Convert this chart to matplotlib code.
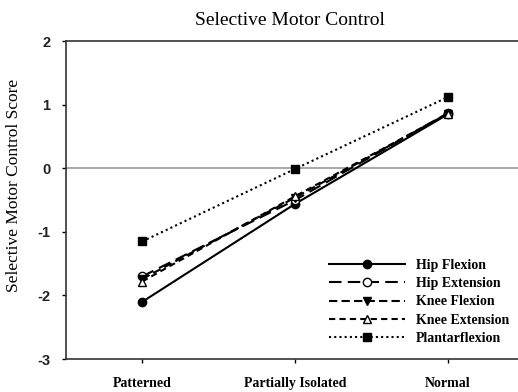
import numpy as np
import matplotlib
matplotlib.use('Agg')
import matplotlib.pyplot as plt

categories = ['Patterned', 'Partially Isolated', 'Normal']
hip_flexion = [-2.10, -0.56, 0.85]
hip_extension = [-1.70, -0.50, 0.87]
knee_flexion = [-1.74, -0.46, 0.86]
knee_extension = [-1.78, -0.44, 0.86]
plantarflexion = [-1.15, -0.01, 1.12]

series = [
    ('Hip Flexion', hip_flexion, '-', 'o', 'black'),
    ('Hip Extension', hip_extension, (0, (6, 3)), 'o', 'white'),
    ('Knee Flexion', knee_flexion, (0, (4, 2)), 'v', 'black'),
    ('Knee Extension', knee_extension, (0, (3, 2)), '^', 'white'),
    ('Plantarflexion', plantarflexion, (0, (1, 1.5)), 's', 'black'),
]

fig = plt.figure(figsize=(5.18, 3.92), dpi=100)
ax = fig.add_axes([0.127, 0.084, 0.885, 0.811])

x = np.arange(1, len(categories) + 1)
ax.axhline(0, color='#999999', lw=1.2, zorder=1)
for name, vals, ls, mk, fc in series:
    ax.plot(x, vals, linestyle=ls, color='black', lw=1.5, marker=mk,
            markersize=6, markerfacecolor=fc, markeredgecolor='black',
            markeredgewidth=1, label=name, zorder=3)

ax.set_xlim(0.5, 3.5)
ax.set_ylim(-3, 2)
ax.set_xticks(x)
ax.set_xticklabels(categories, family='Liberation Serif', fontsize=10,
                   fontweight='bold')
ax.set_yticks([-3, -2, -1, 0, 1, 2])
ax.set_yticklabels(['-3', '-2', '-1', '0', '1', '2'], family='Liberation Sans',
                   fontsize=10.5, fontweight='bold', color='#222222')
ax.tick_params(direction='out', length=3, width=1, pad=8)
ax.tick_params(axis='x', pad=10)
ax.spines['right'].set_visible(False)
for s in ['left', 'bottom', 'top']:
    ax.spines[s].set_linewidth(1.2)
    ax.spines[s].set_color('#333333')

ax.set_ylabel('Selective Motor Control Score', family='Liberation Serif',
              fontsize=12.5)
ax.yaxis.set_label_coords(-0.095, 0.547)
fig.text(0.56, 0.925, 'Selective Motor Control', family='Liberation Serif',
         fontsize=14, ha='center', va='bottom')

leg = ax.legend(loc='lower right', bbox_to_anchor=(0.995, 0.005), frameon=False,
                prop={'family': 'Liberation Serif', 'weight': 'bold', 'size': 10},
                handlelength=5.5, labelspacing=0.38, handletextpad=0.8)

fig.savefig('out.png', dpi=100)
